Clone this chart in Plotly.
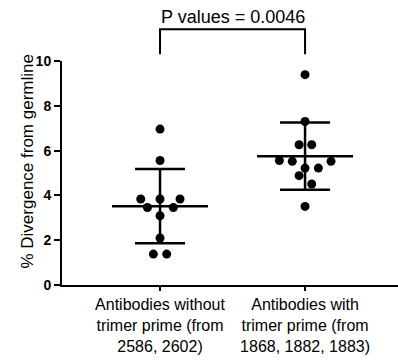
import plotly.graph_objects as go

# ---- data ----
categories = ["Antibodies without<br>trimer prime (from<br>2586, 2602)",
              "Antibodies with<br>trimer prime (from<br>1868, 1882, 1883)"]
group1_values = [6.96, 5.56, 3.84, 3.84, 3.84, 3.46, 3.46, 3.09, 2.10, 1.38, 1.38]
group2_values = [9.39, 7.30, 6.26, 6.26, 5.56, 5.52, 5.52, 5.22, 5.22, 4.88, 4.51, 3.51]
group_means = [3.52, 5.75]
group_sds = [1.66, 1.50]
y_ticks = [0, 2, 4, 6, 8, 10]
p_label = "P values = 0.0046"
y_title = "% Divergence from germline"

# horizontal jitter of the dots (category units), as drawn in the reference
group1_jitter = [0, 0, -0.133, 0, 0.138, -0.087, 0.092, 0, 0, -0.046, 0.046]
group2_jitter = [0, 0, -0.041, 0.046, -0.177, -0.088, 0.179, 0, 0.092, -0.041, 0.046, 0]

FONT = "Arial, Liberation Sans, sans-serif"
fig = go.Figure()

positions = [0, 1]
for pos, vals, jit in [(0, group1_values, group1_jitter), (1, group2_values, group2_jitter)]:
    fig.add_trace(go.Scatter(
        x=[pos + j for j in jit], y=vals, mode="markers",
        marker=dict(color="black", size=9, line=dict(width=0)),
        showlegend=False, hoverinfo="y", cliponaxis=False))

# mean line + SD whiskers
fig.add_trace(go.Scatter(
    x=positions, y=group_means, mode="markers",
    marker=dict(size=1, color="rgba(0,0,0,0)"),
    error_x=dict(type="data", array=[0.331, 0.331], width=0, thickness=2.5, color="black"),
    error_y=dict(type="data", array=group_sds, width=25, thickness=2.5, color="black"),
    showlegend=False, hoverinfo="skip"))

# significance bracket
fig.add_shape(type="path", xref="x", yref="paper",
              path=f"M {positions[0]},1.030 L {positions[0]},1.1415 L {positions[1]},1.1415 L {positions[1]},1.030",
              line=dict(color="black", width=2))
fig.add_annotation(x=(positions[0] + positions[1]) / 2, xref="x", y=1.198, yref="paper",
                   text=p_label, showarrow=False, xanchor="center", yanchor="middle",
                   font=dict(family=FONT, size=18, color="black"))
fig.add_annotation(x=-0.102, xref="paper", y=0.55, yref="paper", text=y_title,
                   textangle=-90, showarrow=False, xanchor="center", yanchor="middle",
                   font=dict(family=FONT, size=17, color="black"))

fig.update_layout(
    width=398, height=360,
    margin=dict(l=62, r=0, t=61, b=75),
    paper_bgcolor="white", plot_bgcolor="white",
    font=dict(family=FONT, color="black"),
    xaxis=dict(range=[-0.676, 1.641], tickmode="array", tickvals=positions, ticktext=categories,
               showline=True, linecolor="black", linewidth=2, ticks="outside", ticklen=4,
               tickwidth=2, tickcolor="black", showgrid=False, zeroline=False,
               tickfont=dict(family=FONT, size=16, color="black")),
    yaxis=dict(range=[0, 10], tickmode="array", tickvals=y_ticks,
               showline=True, linecolor="black", linewidth=2, ticks="outside", ticklen=6,
               tickwidth=2, tickcolor="black", showgrid=False, zeroline=False,
               tickfont=dict(family=FONT, size=14, color="black", weight="bold")),
)

fig.write_html("out.html", config={"displayModeBar": False},
               post_script="document.body.style.margin='0';")
